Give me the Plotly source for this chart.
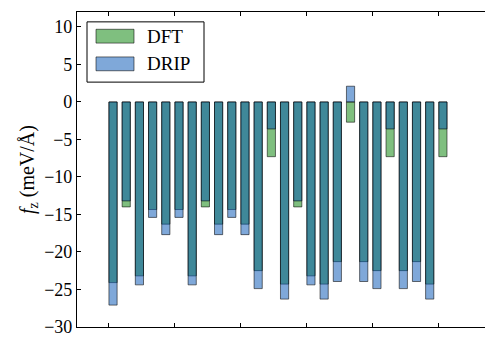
import plotly.graph_objects as go

# Out-of-plane force component f_z per atom, DFT reference vs. DRIP potential
atom_index = list(range(26))
dft_fz = [-24.1, -14.0, -23.2, -14.35, -16.3, -14.35, -23.2, -14.0, -16.3, -14.35,
          -16.3, -22.5, -7.3, -24.3, -14.0, -23.2, -24.3, -21.3, -2.7, -21.3,
          -22.5, -7.3, -22.5, -21.3, -24.3, -7.3]
drip_fz = [-27.1, -13.2, -24.4, -15.4, -17.7, -15.4, -24.4, -13.2, -17.7, -15.4,
           -17.7, -24.9, -3.6, -26.3, -13.2, -24.4, -26.3, -23.95, 2.1, -23.95,
           -24.9, -3.6, -24.9, -23.95, -26.3, -3.6]
y_ticks = [10, 5, 0, -5, -10, -15, -20, -25, -30]
y_tick_text = ["10", "5", "0", "−5", "−10", "−15", "−20", "−25", "−30"]
x_ticks = [0, 5, 10, 15, 20, 25]

DFT_FILL = "rgba(0,128,0,0.5)"
DRIP_FILL = "rgba(0,82,180,0.5)"
EDGE = "rgba(0,0,0,0.55)"
FONT = "'Liberation Serif', 'DejaVu Serif', serif"

W, H = 485, 337
ML, MR, MT, MB = 77, 0, 12, 6

fig = go.Figure()
for name, vals, fill in [("DFT", dft_fz, DFT_FILL), ("DRIP", drip_fz, DRIP_FILL)]:
    fig.add_trace(go.Bar(
        x=atom_index, y=vals, name=name, width=0.62, offset=0,
        marker=dict(color=fill, line=dict(color=EDGE, width=1)),
        showlegend=False,
    ))


def px_to_paper(px, py):
    return (px - ML) / (W - ML - MR), (H - MB - py) / (H - MT - MB)


# legend box drawn in paper space
shapes = []
x0, y0 = px_to_paper(87, 22)
x1, y1 = px_to_paper(204, 83)
shapes.append(dict(type="rect", xref="paper", yref="paper", x0=x0, y0=y1, x1=x1, y1=y0,
                   line=dict(color="black", width=1), fillcolor="white", layer="above"))
annotations = []
for (name, fill, top) in [("DFT", DFT_FILL, 29.5), ("DRIP", DRIP_FILL, 57.5)]:
    sx0, sy0 = px_to_paper(96, top)
    sx1, sy1 = px_to_paper(134, top + 14)
    shapes.append(dict(type="rect", xref="paper", yref="paper", x0=sx0, y0=sy1, x1=sx1, y1=sy0,
                       line=dict(color=EDGE, width=1), fillcolor=fill, layer="above"))
    tx, ty = px_to_paper(145, top + 7)
    annotations.append(dict(xref="paper", yref="paper", x=tx, y=ty, text=name,
                            showarrow=False, xanchor="left", yanchor="middle",
                            font=dict(family=FONT, size=19, color="black")))

fig.update_layout(
    width=W, height=H,
    margin=dict(l=ML, r=MR, t=MT, b=MB),
    barmode="overlay",
    plot_bgcolor="white", paper_bgcolor="white",
    font=dict(family=FONT, size=17, color="black"),
    shapes=shapes, annotations=annotations,
    xaxis=dict(range=[-2.42, 28.5], tickvals=x_ticks, showticklabels=False,
               ticks="inside", ticklen=4, tickcolor="black",
               showline=True, linecolor="black", linewidth=1.2, mirror="ticks",
               showgrid=False, zeroline=False),
    yaxis=dict(range=[-30.02, 12], tickvals=y_ticks, ticktext=y_tick_text,
               ticks="inside", ticklen=4, ticklabeloverflow="allow",
               tickcolor="black", showline=True, linecolor="black", linewidth=1.2,
               showgrid=False, zeroline=False,
               tickfont=dict(family=FONT, size=18),
               title=dict(text="<i>f</i><sub>z</sub> (meV/Å)", standoff=4,
                          font=dict(family=FONT, size=20))),
)

fig.write_html("out.html")
